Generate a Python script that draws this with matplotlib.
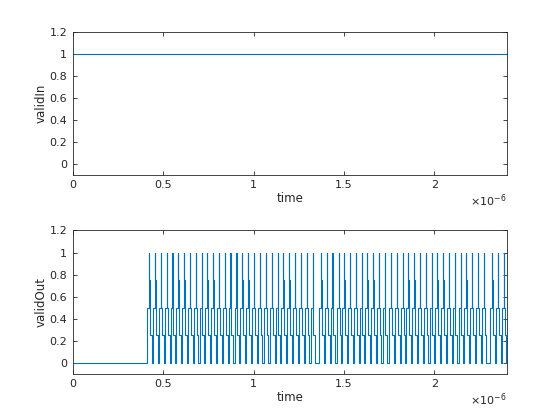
import matplotlib
matplotlib.use("Agg")
import matplotlib.pyplot as plt
import numpy as np

# validIn: constant 1 over the whole time range (microseconds)
time_in_us = [0.0, 2.4]
valid_in = [1.0, 1.0]

# validOut: times (us) where each pulse reaches its peak
pulse_times_us = [
    0.422, 0.455, 0.487, 0.520, 0.551, 0.582, 0.616, 0.647, 0.680, 0.712,
    0.743, 0.776, 0.808, 0.841, 0.872, 0.905, 0.936, 0.970, 1.001, 1.034,
    1.067, 1.101, 1.132, 1.163, 1.196, 1.228, 1.261, 1.293, 1.326, 1.373,
    1.405, 1.436, 1.470, 1.501, 1.532, 1.565, 1.597, 1.628, 1.661, 1.692,
    1.724, 1.759, 1.792, 1.824, 1.855, 1.888, 1.919, 1.951, 1.984, 2.015,
    2.048, 2.080, 2.111, 2.144, 2.175, 2.207, 2.240, 2.272, 2.318, 2.351,
    2.383,
]
# shape of one pulse: level held from (peak time + offset)
pulse_offsets_us = [-0.010, 0.0, 0.0007, 0.003, 0.005, 0.015]
pulse_levels = [0.5, 1.0, 0.75, 0.5, 0.25, 0.0]
t_end_us = 2.4

# build the step signal
t_out = [0.0]
y_out = [0.0]
for tp in pulse_times_us:
    for off, lv in zip(pulse_offsets_us, pulse_levels):
        t_out.append(tp + off)
        y_out.append(lv)
t_out.append(t_end_us)
y_out.append(y_out[-1])
t_out = np.array(t_out) * 1e-6
t_in = np.array(time_in_us) * 1e-6

line_color = '#0072BD'
axis_color = '#262626'

fig = plt.figure(figsize=(5.6, 4.2), dpi=100)
ax1 = fig.add_axes([0.13, 0.5838, 0.775, 0.3412])
ax2 = fig.add_axes([0.13, 0.11, 0.775, 0.3412])

ax1.plot(t_in, valid_in, color=line_color, lw=0.8)
ax2.plot(t_out, y_out, color=line_color, lw=0.8, drawstyle='steps-post')

xticks = [0, 0.5e-6, 1e-6, 1.5e-6, 2e-6]
xlabels = ['0', '0.5', '1', '1.5', '2']
yticks = [0, 0.2, 0.4, 0.6, 0.8, 1.0, 1.2]
ylabels = ['0', '0.2', '0.4', '0.6', '0.8', '1', '1.2']

for ax, name in [(ax1, 'validIn'), (ax2, 'validOut')]:
    ax.set_xlim(0, 2.4e-6)
    ax.set_ylim(-0.1, 1.2)
    ax.set_xticks(xticks)
    ax.set_xticklabels(xlabels)
    ax.set_yticks(yticks)
    ax.set_yticklabels(ylabels)
    ax.tick_params(direction='in', length=3, width=0.6, labelsize=8,
                   colors=axis_color, top=True, right=True, pad=4)
    for sp in ax.spines.values():
        sp.set_color(axis_color)
        sp.set_linewidth(0.6)
    ax.set_xlabel('time', fontsize=8.5, color=axis_color, labelpad=1)
    ax.set_ylabel(name, fontsize=8.5, color=axis_color, labelpad=1)
    ax.text(1.0, -0.12, r'$\times10^{-6}$', transform=ax.transAxes,
            ha='right', va='top', fontsize=8, color=axis_color)

fig.savefig('out.png', dpi=100)
